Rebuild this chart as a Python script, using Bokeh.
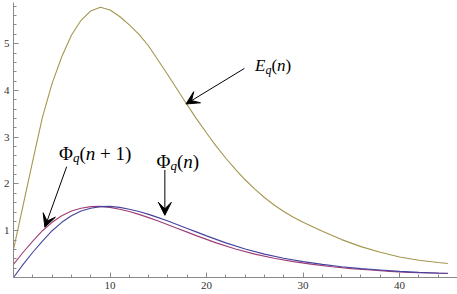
from bokeh.plotting import figure
from bokeh.models import Label, Arrow, VeeHead, FixedTicker, Range1d
from bokeh.embed import file_html
from bokeh.resources import INLINE

# ---- data ----
n_E = [0, 1, 2, 3, 4, 5, 6, 7, 8, 9, 10, 11, 12, 13, 14, 15, 16, 17, 18, 19, 20,
       21, 22, 23, 24, 25, 26, 27, 28, 29, 30, 32, 34, 36, 38, 40, 42, 44, 45]
E_vals = [0.60, 1.55, 2.50, 3.43, 4.15, 4.72, 5.18, 5.50, 5.70, 5.78, 5.72, 5.58, 5.40,
          5.20, 4.95, 4.64, 4.33, 4.01, 3.69, 3.38, 3.09, 2.81, 2.55, 2.31, 2.09, 1.89,
          1.71, 1.55, 1.41, 1.29, 1.18, 0.99, 0.81, 0.66, 0.54, 0.44, 0.37, 0.32, 0.30]

n_phi = [0, 1, 2, 3, 4, 5, 6, 7, 8, 9, 10, 11, 12, 13, 14, 15, 16, 17, 18, 19, 20,
         22, 24, 26, 28, 30, 32, 34, 36, 38, 40, 42, 44, 45]
phi_vals = [0.00, 0.28, 0.54, 0.78, 1.00, 1.18, 1.32, 1.42, 1.48, 1.515, 1.52, 1.50,
            1.46, 1.41, 1.35, 1.28, 1.21, 1.13, 1.05, 0.97, 0.89, 0.74, 0.61, 0.50,
            0.41, 0.34, 0.28, 0.23, 0.19, 0.16, 0.13, 0.11, 0.095, 0.09]

n_phi1 = [0, 1, 2, 3, 4, 5, 6, 7, 8, 9, 10, 11, 12, 13, 14, 15, 16, 17, 18, 19,
          21, 23, 25, 27, 29, 31, 33, 35, 37, 39, 41, 43, 45]
phi1_vals = [0.28, 0.54, 0.78, 1.00, 1.18, 1.32, 1.42, 1.48, 1.515, 1.52, 1.50, 1.46,
             1.41, 1.35, 1.28, 1.21, 1.13, 1.05, 0.97, 0.89, 0.74, 0.61, 0.50, 0.41,
             0.34, 0.28, 0.23, 0.19, 0.16, 0.13, 0.11, 0.095, 0.085]

x_major = [10, 20, 30, 40]
x_minor = [2, 4, 6, 8, 12, 14, 16, 18, 22, 24, 26, 28, 32, 34, 36, 38, 42, 44]
y_major = [1, 2, 3, 4, 5]
y_minor = [0.2, 0.4, 0.6, 0.8, 1.2, 1.4, 1.6, 1.8, 2.2, 2.4, 2.6, 2.8, 3.2, 3.4, 3.6,
           3.8, 4.2, 4.4, 4.6, 4.8, 5.2, 5.4, 5.6, 5.8]

E_COLOR = "#A4964E"
PHI_COLOR = "#4444A0"
PHI1_COLOR = "#A03E74"
SERIF = "Liberation Serif"

p = figure(width=457, height=294, output_backend="svg", toolbar_location=None,
           x_range=Range1d(0, 46), y_range=Range1d(0, 5.88),
           min_border_left=9, min_border_right=0, min_border_top=2, min_border_bottom=17)
p.outline_line_color = None
p.grid.visible = False
p.background_fill_color = "white"
p.border_fill_color = "white"

p.line(n_E, E_vals, line_color=E_COLOR, line_width=1.1)
p.line(n_phi1, phi1_vals, line_color=PHI1_COLOR, line_width=1.1)
p.line(n_phi, phi_vals, line_color=PHI_COLOR, line_width=1.1)

for ax, maj, mnr in ((p.xaxis[0], x_major, x_minor), (p.yaxis[0], y_major, y_minor)):
    ax.ticker = FixedTicker(ticks=maj, minor_ticks=mnr)
    ax.axis_line_color = "#8a8a8a"
    ax.major_tick_line_color = "#8a8a8a"
    ax.minor_tick_line_color = "#8a8a8a"
    ax.major_tick_out = 0
    ax.major_tick_in = 5
    ax.minor_tick_out = 0
    ax.minor_tick_in = 3
    ax.major_label_text_font = SERIF
    ax.major_label_text_font_size = "11px"
    ax.major_label_text_color = "#333333"
p.xaxis.major_label_standoff = 4
p.yaxis.major_label_standoff = 4


def add_text(x, y, parts):
    for dx, dy, txt, size, style in parts:
        p.add_layout(Label(x=x, y=y, x_offset=dx, y_offset=dy, text=txt,
                           text_font=SERIF, text_font_size=size, text_font_style=style,
                           text_color="black", text_baseline="alphabetic",
                           text_align="left"))


# Phi_q(n + 1)
add_text(4.72, 2.66, [(0, 0, "\u03a6", "19px", "normal"),
                      (14, -4, "q", "13px", "italic"),
                      (20.5, 0, "(", "19px", "normal"),
                      (26.8, 0, "n", "19px", "italic"),
                      (41, 0, "+ 1)", "19px", "normal")])
# Phi_q(n)
add_text(14.82, 2.49, [(0, 0, "\u03a6", "19px", "normal"),
                       (14, -4, "q", "13px", "italic"),
                       (20.5, 0, "(", "19px", "normal"),
                       (26.8, 0, "n", "19px", "italic"),
                       (36.3, 0, ")", "19px", "normal")])
# E_q(n)
add_text(25.02, 4.53, [(0, 0, "E", "17px", "italic"),
                       (10.4, -4, "q", "12px", "italic"),
                       (16.4, 0, "(", "17px", "normal"),
                       (22.1, 0, "n", "17px", "italic"),
                       (30.6, 0, ")", "17px", "normal")])

for xs, ys, xe, ye in ((23.92, 4.47, 17.87, 3.71),
                       (5.51, 2.37, 3.25, 1.075),
                       (15.68, 2.30, 15.68, 1.33)):
    p.add_layout(Arrow(end=VeeHead(size=13, fill_color="black", line_color="black",
                                   line_width=1),
                       x_start=xs, y_start=ys, x_end=xe, y_end=ye,
                       line_color="black", line_width=1))

open("out.html", "w").write(file_html(p, INLINE))
